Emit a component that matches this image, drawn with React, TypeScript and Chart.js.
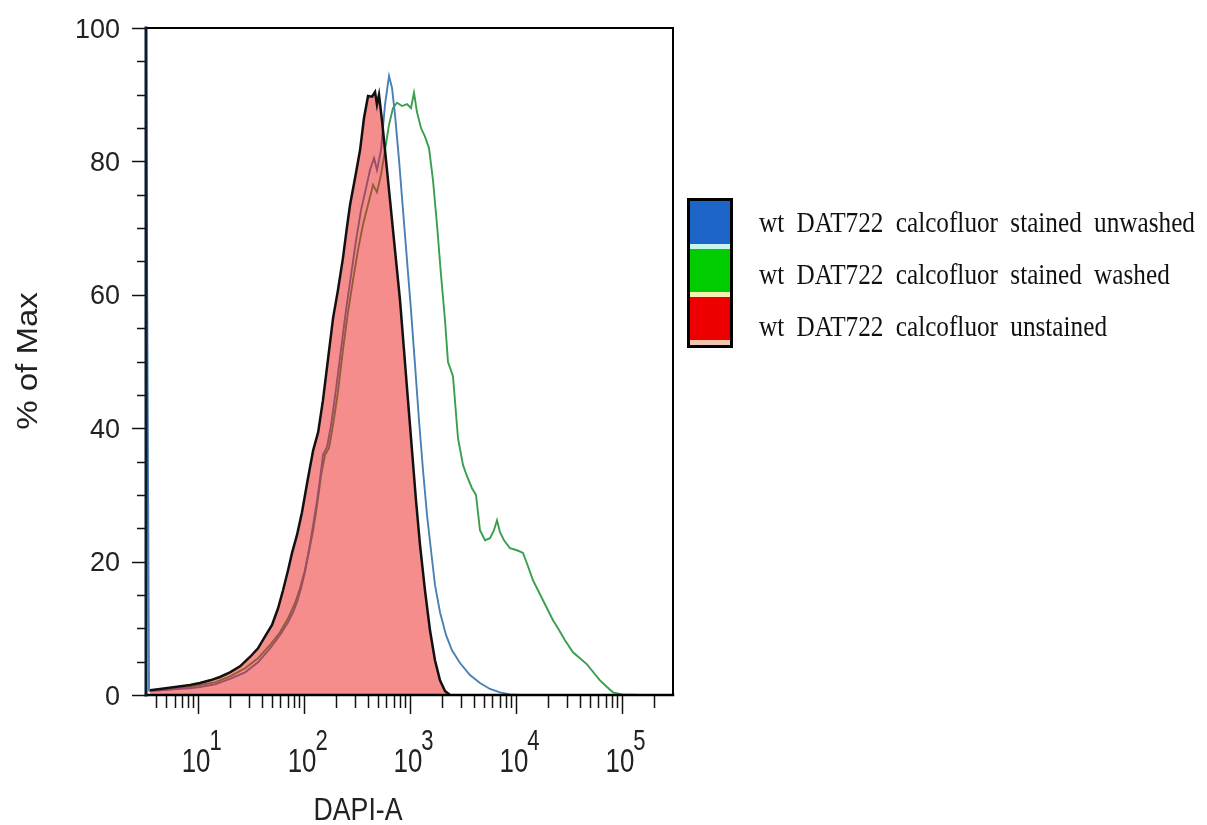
import React, { useEffect, useRef } from "react";
import { Chart, registerables } from "chart.js";

Chart.register(...registerables);

// ---------- data ----------
const seriesLabels = [
  "wt DAT722 calcofluor stained unwashed",
  "wt DAT722 calcofluor stained washed",
  "wt DAT722 calcofluor unstained",
];
const legendColors = ["#1c64c8", "#00cc00", "#ee0000"];
const legendStripes = ["#c8f4ee", "#f4f0b4", "#f4c4b0"];

const xDecadeTicks = [10, 100, 1000, 10000, 100000];
const xDecadeExponents = ["1", "2", "3", "4", "5"];
const xTickDecades = [1, 10, 100, 1000, 10000, 100000];
const xTickMultipliers = [1, 2, 3, 4, 5, 6, 7, 8, 9];
const yTickLabels = [0, 20, 40, 60, 80, 100];
const X_MIN = 3.23;
const X_MAX = 303000;
const xAxisTitle = "DAPI-A";
const yAxisTitle = "% of Max";

// stained unwashed (blue)
const blueX = [3.23, 3.45, 4.38, 6.07, 8.41, 10.4, 14.5, 20.0, 27.8, 36.8, 47.8, 59.4, 70.7, 78.8, 85.9, 93.7, 102, 112, 122, 133, 142, 151, 165, 180, 200, 223, 249, 278, 310, 345, 385, 419, 458, 488, 533, 581, 634, 677, 722, 788, 859, 937, 1022, 1115, 1216, 1327, 1447, 1578, 1721, 1919, 2186, 2490, 2963, 3681, 4575, 5685, 7067, 8779, 10910];
const blueY = [100, 0.7, 0.7, 0.9, 1.0, 1.2, 1.6, 2.4, 3.4, 4.9, 7.0, 9.0, 10.9, 12.4, 13.9, 16.0, 18.4, 22.0, 25.5, 29.2, 32.5, 36.0, 37.2, 40.5, 45.7, 51.7, 57.7, 63.0, 68.2, 72.7, 76.0, 78.7, 80.5, 78.7, 81.7, 88.5, 92.8, 91.0, 87.0, 80.2, 72.7, 65.2, 57.7, 49.5, 41.2, 33.7, 27.0, 21.7, 16.5, 12.4, 9.0, 6.7, 4.8, 3.0, 1.8, 0.9, 0.4, 0.1, 0];

// stained washed (green)
const greenX = [3.45, 4.38, 6.07, 8.41, 10.4, 14.5, 20.0, 27.8, 36.8, 47.8, 59.4, 70.7, 82.3, 91.7, 102, 112, 122, 133, 145, 158, 172, 188, 209, 233, 260, 290, 323, 360, 402, 448, 488, 533, 581, 634, 691, 754, 841, 937, 1022, 1091, 1164, 1270, 1385, 1511, 1648, 1798, 1961, 2139, 2283, 2545, 2837, 3162, 3450, 3845, 4194, 4575, 5100, 5685, 6201, 6620, 7067, 7708, 8779, 10220, 11640, 12980, 14470, 16840, 19610, 22340, 24900, 29000, 34500, 40160, 46760, 54430, 62010, 72220, 82270, 100000, 147800];
const greenY = [0.6, 0.7, 0.9, 1.2, 1.5, 1.9, 2.8, 4.0, 5.5, 7.5, 9.4, 11.5, 13.8, 16.0, 18.7, 21.7, 24.7, 28.5, 33.0, 36.0, 37.0, 40.5, 45.4, 51.7, 57.4, 62.2, 66.7, 70.5, 73.5, 76.5, 75.4, 78.0, 81.7, 85.5, 88.0, 88.8, 88.3, 88.6, 88.0, 90.3, 87.4, 85.0, 83.7, 82.0, 77.2, 70.5, 63.0, 56.2, 49.9, 47.8, 38.5, 34.5, 32.8, 31.0, 30.0, 24.7, 23.2, 23.5, 24.7, 26.2, 24.4, 23.2, 22.0, 21.7, 21.3, 19.3, 17.2, 15.1, 13.0, 11.2, 10.0, 8.2, 6.4, 5.5, 4.6, 3.3, 2.2, 1.2, 0.4, 0.1, 0];

// unstained (red, filled)
const redX = [3.53, 4.38, 6.07, 8.41, 10.4, 13.0, 16.1, 20.0, 24.9, 30.9, 36.8, 42.9, 49.9, 56.9, 63.4, 70.7, 77.1, 85.9, 95.7, 109, 122, 136, 151, 168, 188, 209, 233, 255, 272, 303, 338, 368, 402, 438, 468, 488, 510, 544, 594, 648, 722, 805, 878, 957, 1044, 1139, 1243, 1385, 1544, 1721, 1919, 2139, 2385];
const redY = [0.7, 0.9, 1.2, 1.5, 1.8, 2.2, 2.7, 3.4, 4.3, 5.7, 7.0, 8.8, 10.5, 13.0, 15.7, 18.7, 21.3, 24.0, 27.4, 32.5, 36.7, 39.4, 44.2, 50.2, 56.5, 60.7, 65.5, 70.3, 73.5, 77.5, 81.7, 86.5, 89.8, 89.7, 90.4, 88.5, 90.0, 86.2, 80.2, 74.2, 66.7, 59.2, 51.7, 44.2, 36.7, 29.2, 22.5, 15.7, 9.7, 5.2, 2.2, 0.6, 0];

const toPoints = (xs: number[], ys: number[]) => xs.map((x, i) => ({ x, y: ys[i] }));

const SANS = '"Liberation Sans", Arial, Helvetica, sans-serif';
const SERIF = '"Liberation Serif", "Times New Roman", serif';

const decorPlugin = {
  id: "decor",
  afterDatasetsDraw(chart: any) {
    const { ctx, chartArea: a, scales } = chart;
    const xs = scales.x;
    const ys = scales.y;
    ctx.save();

    // frame
    ctx.strokeStyle = "#000";
    ctx.lineCap = "square";
    ctx.lineWidth = 2;
    ctx.beginPath();
    ctx.moveTo(a.left, a.top);
    ctx.lineTo(a.right, a.top);
    ctx.lineTo(a.right, a.bottom);
    ctx.stroke();
    ctx.lineWidth = 2.5;
    ctx.beginPath();
    ctx.moveTo(a.left, a.bottom);
    ctx.lineTo(a.right, a.bottom);
    ctx.stroke();
    ctx.strokeStyle = "#0b1c2e";
    ctx.lineWidth = 3;
    ctx.beginPath();
    ctx.moveTo(a.left, a.top);
    ctx.lineTo(a.left, a.bottom);
    ctx.stroke();

    // y ticks
    ctx.strokeStyle = "#111";
    ctx.lineWidth = 1.5;
    ctx.lineCap = "butt";
    let yTicks = (ys.ticks || []).map((t: any) => t.value);
    if (!yTicks.length) yTicks = yTickLabels;
    yTicks.forEach((v: number) => {
      const py = Math.round(ys.getPixelForValue(v)) + 0.5;
      const len = v % 20 === 0 ? 13 : 8;
      ctx.beginPath();
      ctx.moveTo(a.left - 1, py);
      ctx.lineTo(a.left - 1 - len, py);
      ctx.stroke();
    });

    // x ticks (log scale: 1..9 x 10^n)
    xTickDecades.forEach((d) => {
      xTickMultipliers.forEach((m) => {
        const v = d * m;
        if (v <= xs.min || v >= xs.max) return;
        const px = Math.round(xs.getPixelForValue(v)) + 0.5;
        if (px < a.left + 3 || px > a.right - 3) return;
        const len = m === 1 ? 18 : 12;
        ctx.beginPath();
        ctx.moveTo(px, a.bottom + 1);
        ctx.lineTo(px, a.bottom + 1 + len);
        ctx.stroke();
      });
    });

    // y tick labels
    ctx.fillStyle = "#222";
    ctx.font = `27px ${SANS}`;
    ctx.textAlign = "right";
    ctx.textBaseline = "alphabetic";
    yTickLabels.forEach((v) => {
      ctx.fillText(String(v), a.left - 26, ys.getPixelForValue(v) + 9.5);
    });

    // x tick labels 10^n
    const hs = 0.76;
    xDecadeTicks.forEach((v, i) => {
      const cx = xs.getPixelForValue(v) - 2;
      ctx.save();
      ctx.font = `34px ${SANS}`;
      const w = ctx.measureText("10").width * hs;
      ctx.translate(cx, 772);
      ctx.scale(hs, 1);
      ctx.textAlign = "center";
      ctx.fillText("10", 0, 0);
      ctx.restore();
      ctx.save();
      ctx.font = `29px ${SANS}`;
      ctx.translate(cx + w / 2 - 1, 750);
      ctx.scale(hs, 1);
      ctx.textAlign = "left";
      ctx.fillText(xDecadeExponents[i], 0, 0);
      ctx.restore();
    });

    // axis titles
    ctx.save();
    ctx.font = `31px ${SANS}`;
    ctx.translate(358, 820);
    ctx.scale(0.86, 1);
    ctx.textAlign = "center";
    ctx.fillText(xAxisTitle, 0, 0);
    ctx.restore();

    ctx.save();
    ctx.font = `33px ${SANS}`;
    ctx.translate(37, 361);
    ctx.rotate(-Math.PI / 2);
    ctx.scale(1, 0.88);
    ctx.textAlign = "center";
    ctx.fillText(yAxisTitle, 0, 0);
    ctx.restore();

    // legend
    const bx = 687, by = 198, bw = 46, bh = 150;
    const inner = bh - 6;
    const seg = inner / 3;
    chart.data.datasets.forEach((_: any, i: number) => {
      const top = by + 3 + seg * i;
      ctx.fillStyle = legendColors[i];
      ctx.fillRect(bx + 1.5, top, bw - 3, seg - 5);
      ctx.fillStyle = legendStripes[i];
      ctx.fillRect(bx + 1.5, top + seg - 5, bw - 3, 5);
    });
    ctx.strokeStyle = "#000";
    ctx.lineWidth = 3;
    ctx.strokeRect(bx + 1.5, by + 1.5, bw - 3, bh - 3);

    ctx.fillStyle = "#111";
    ctx.font = `29px ${SERIF}`;
    ctx.textAlign = "left";
    const ts = 0.87;
    const spaceW = ctx.measureText(" ").width * ts + 6;
    chart.data.datasets.forEach((ds: any, i: number) => {
      let x = 759;
      const base = 232 + 52 * i;
      ds.label.split(" ").forEach((word: string) => {
        ctx.save();
        ctx.translate(x, base);
        ctx.scale(ts, 1);
        ctx.fillText(word, 0, 0);
        ctx.restore();
        x += ctx.measureText(word).width * ts + spaceW;
      });
    });

    ctx.restore();
  },
};

export default function App() {
  const canvasRef = useRef<HTMLCanvasElement | null>(null);

  useEffect(() => {
    const canvas = canvasRef.current;
    if (!canvas) return;
    const chart = new Chart(canvas, {
      type: "line",
      data: {
        datasets: [
          {
            label: seriesLabels[0],
            data: toPoints(blueX, blueY),
            borderColor: "#4a80b4",
            borderWidth: 1.9,
            pointRadius: 0,
            fill: false,
            tension: 0,
            order: 1,
          },
          {
            label: seriesLabels[1],
            data: toPoints(greenX, greenY),
            borderColor: "#3a9e4c",
            borderWidth: 1.9,
            pointRadius: 0,
            fill: false,
            tension: 0,
            order: 2,
          },
          {
            label: seriesLabels[2],
            data: toPoints(redX, redY),
            borderColor: "#111111",
            borderWidth: 2.5,
            backgroundColor: "rgba(236,28,28,0.5)",
            pointRadius: 0,
            fill: "origin",
            tension: 0,
            order: 0,
          },
        ],
      },
      options: {
        animation: false,
        responsive: false,
        maintainAspectRatio: false,
        events: [],
        layout: { padding: { left: 146, right: 534, top: 28, bottom: 130 } },
        scales: {
          x: { type: "logarithmic", min: X_MIN, max: X_MAX, display: false },
          y: { type: "linear", min: 0, max: 100, display: false, ticks: { stepSize: 5 } },
        },
        plugins: { legend: { display: false }, tooltip: { enabled: false } },
      },
      plugins: [decorPlugin],
    } as any);
    return () => chart.destroy();
  }, []);

  return (
    <div style={{ position: "fixed", left: 0, top: 0, width: 1207, height: 825, background: "#fff" }}>
      <canvas ref={canvasRef} width={1207} height={825} style={{ display: "block" }} />
    </div>
  );
}
